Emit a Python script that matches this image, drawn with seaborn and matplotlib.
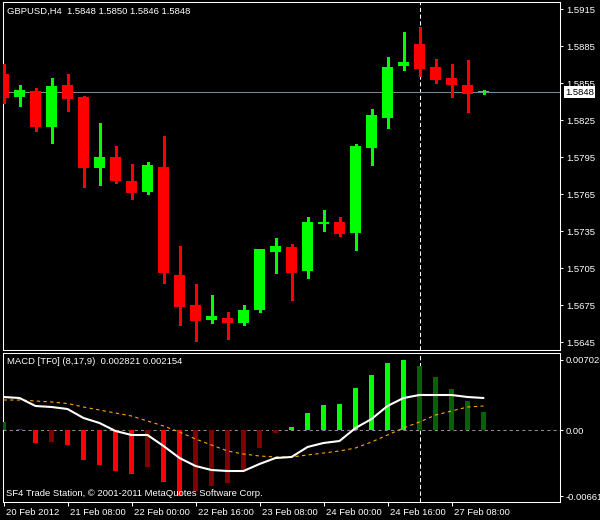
import numpy as np
import pandas as pd
import matplotlib
matplotlib.use("Agg")
import matplotlib.pyplot as plt
import matplotlib.transforms as mtransforms
import seaborn as sns

# GBPUSD H4 candles, oldest first
opens = [1.5863, 1.5844, 1.5849, 1.5820, 1.5854, 1.5844, 1.5786, 1.5795, 1.5776, 1.5767,
         1.5787, 1.5700, 1.5675, 1.5663, 1.5665, 1.5661, 1.5671, 1.5718, 1.5722, 1.5703,
         1.5741, 1.5743, 1.5734, 1.5803, 1.5827, 1.5869, 1.5887, 1.5868, 1.5859, 1.5854,
         1.5848]
highs = [1.5871, 1.5854, 1.5851, 1.5859, 1.5863, 1.5845, 1.5823, 1.5804, 1.5790, 1.5791,
         1.5812, 1.5723, 1.5692, 1.5683, 1.5670, 1.5675, 1.5721, 1.5730, 1.5725, 1.5747,
         1.5752, 1.5747, 1.5806, 1.5834, 1.5876, 1.5897, 1.5901, 1.5875, 1.5871, 1.5874,
         1.5850]
lows = [1.5839, 1.5837, 1.5816, 1.5807, 1.5833, 1.5771, 1.5773, 1.5774, 1.5761, 1.5765,
        1.5693, 1.5659, 1.5646, 1.5661, 1.5648, 1.5659, 1.5670, 1.5701, 1.5679, 1.5697,
        1.5735, 1.5731, 1.5720, 1.5789, 1.5819, 1.5866, 1.5861, 1.5855, 1.5844, 1.5832,
        1.5846]
closes = [1.5843, 1.5850, 1.5820, 1.5853, 1.5842, 1.5786, 1.5795, 1.5776, 1.5766, 1.5789,
          1.5701, 1.5674, 1.5662, 1.5666, 1.5661, 1.5671, 1.5721, 1.5723, 1.5701, 1.5743,
          1.5743, 1.5733, 1.5804, 1.5829, 1.5868, 1.5872, 1.5867, 1.5858, 1.5854, 1.5846,
          1.5848]

# MACD window
macd_hist = [0.0008, 0.0001, -0.0013, -0.0012, -0.0015, -0.0030, -0.0035, -0.0041, -0.0044, -0.0037,
             -0.0052, -0.0066, -0.0061, -0.0056, -0.0053, -0.0041, -0.0018, -0.0003, 0.0003, 0.0017,
             0.0025, 0.0026, 0.0042, 0.0055, 0.0067, 0.0070, 0.0064, 0.0053, 0.0041, 0.0029,
             0.0018]
macd_main = [0.0033, 0.0032, 0.0024, 0.0023, 0.0021, 0.0012, 0.0007, -0.0001, -0.0005, -0.0005,
             -0.0016, -0.0028, -0.0036, -0.0040, -0.0041, -0.0041, -0.0034, -0.0028, -0.0027, -0.0017,
             -0.0013, -0.0011, 0.0002, 0.0011, 0.0024, 0.0032, 0.0035, 0.0035, 0.0035, 0.0033,
             0.0032]
macd_signal = [0.0030, 0.0030, 0.0029, 0.0028, 0.00265, 0.0023, 0.0020, 0.0017, 0.0014, 0.0009,
               0.0004, -0.0002, -0.0009, -0.0015, -0.0021, -0.0024, -0.0026, -0.0027, -0.0027, -0.0025,
               -0.0023, -0.0021, -0.0018, -0.0012, -0.0005, 0.0002, 0.0008, 0.0015, 0.0019, 0.0023,
               0.0024]

date_labels = ["20 Feb 2012", "21 Feb 08:00", "22 Feb 00:00", "22 Feb 16:00",
               "23 Feb 08:00", "24 Feb 00:00", "24 Feb 16:00", "27 Feb 08:00"]
price_ticks = [1.5915, 1.5885, 1.5855, 1.5825, 1.5795, 1.5765, 1.5735, 1.5705, 1.5675, 1.5645]
macd_ticks = [0.007028, 0.0, -0.00661]
macd_tick_labels = ["0.007028", "0.00", "-0.00661"]
last_price = 1.5848
marker_bar = 26

df = pd.DataFrame({"open": opens, "high": highs, "low": lows, "close": closes,
                   "hist": macd_hist, "main": macd_main, "signal": macd_signal})
df["x"] = np.arange(len(df))

# histogram colour: bright when growing away from zero, dark otherwise
prev = df["hist"].shift(1).fillna(np.inf)
df["state"] = np.where(df["hist"] >= 0,
                       np.where(df["hist"] > prev, "up_pos", "dn_pos"),
                       np.where(df["hist"] < prev, "dn_neg", "up_neg"))
pal = {"up_pos": "#00ff00", "dn_pos": "#006400", "dn_neg": "#ff0000", "up_neg": "#800000"}

sns.set_style("dark")
plt.rcParams['font.family'] = ['Liberation Sans', 'DejaVu Sans']
plt.rcParams['font.size'] = 6.8

fig = plt.figure(figsize=(6, 5.2), dpi=100, facecolor="black")
ax1 = fig.add_axes([3 / 600, 1 - 350 / 520, 557 / 600, 348 / 520], facecolor="black")
ax2 = fig.add_axes([3 / 600, 1 - 501.7 / 520, 557 / 600, 149.2 / 520], facecolor="black")

# candles
bull = df["close"] >= df["open"]
ccol = np.where(bull, "#00ff00", "#ff0000")
ax1.vlines(df["x"], df["low"], df["high"], colors=ccol, lw=0.75, antialiased=False, zorder=3)
body_lo = np.minimum(df["open"], df["close"])
body_h = np.maximum((df["close"] - df["open"]).abs(), 0.00009)
ax1.bar(df["x"], body_h, bottom=body_lo, width=0.69, color=ccol, linewidth=0,
        antialiased=False, zorder=4)
ax1.axhline(last_price, color="#778899", lw=0.75, zorder=2)

ax1.set_xlim(-0.03125, 34.78)
ax1.set_ylim(1.56388, 1.59210)
ax1.yaxis.tick_right()
ax1.set_yticks(price_ticks)
ax1.set_yticklabels([f"{p:.4f}" for p in price_ticks])
ax1.set_xticks([])
ax1.tick_params(axis="y", colors="white", length=2.2, width=0.75, pad=2, right=True, left=False)
ax1.text(4 / 557, 1 - 9 / 348, "GBPUSD,H4  1.5848 1.5850 1.5846 1.5848", color="white",
         transform=ax1.transAxes, va="center", ha="left")
ax1.annotate(f"{last_price:.4f}", xy=(1, last_price), xycoords=("axes fraction", "data"),
             xytext=(5, 0), textcoords="offset pixels", va="center", ha="left", color="black",
             annotation_clip=False,
             bbox=dict(boxstyle="square,pad=0.15", fc="white", ec="none"), zorder=10)

# MACD
sns.barplot(data=df, x="x", y="hist", hue="state", palette=pal, dodge=False, native_scale=True,
            width=5 / 16, saturation=1, errorbar=None, legend=False, linewidth=0,
            antialiased=False, ax=ax2, zorder=3)
ax2.axhline(0, color="#909090", lw=0.75, ls=(0, (3, 3)), zorder=2)
sns.lineplot(data=df, x="x", y="signal", color="#ffa500", lw=0.8, linestyle=(0, (3, 3)),
             ax=ax2, zorder=4)
sns.lineplot(data=df, x="x", y="main", color="white", lw=1.5, ax=ax2, zorder=5)

ax2.set_xlim(-0.03125, 34.78)
ax2.set_ylim(-0.00717, 0.00775)
ax2.set_xlabel("")
ax2.set_ylabel("")
ax2.yaxis.tick_right()
ax2.set_yticks(macd_ticks)
ax2.set_yticklabels(macd_tick_labels)
ax2.tick_params(axis="y", colors="white", length=2.2, width=0.75, pad=2, right=True, left=False)
ax2.set_xticks(df["x"][::4])
ax2.set_xticklabels(date_labels)
ax2.tick_params(axis="x", colors="white", length=3, width=0.75, pad=1.5, bottom=True)
shift = mtransforms.ScaledTranslation(2 / 100, 0, fig.dpi_scale_trans)
for lab in ax2.get_xticklabels():
    lab.set_ha("left")
    lab.set_transform(lab.get_transform() + shift)
ax2.text(4 / 557, 1 - 9.5 / 149.2, "MACD [TF0] (8,17,9)  0.002821 0.002154", color="white",
         transform=ax2.transAxes, va="center", ha="left", zorder=6)
ax2.text(3 / 557, 1 - 141.5 / 149.2, "SF4 Trade Station, \u00a9 2001-2011 MetaQuotes Software Corp.",
         color="white", transform=ax2.transAxes, va="center", ha="left", zorder=6)

for ax in (ax1, ax2):
    ax.grid(False)
    # vertical marker sits behind candles and histogram bars
    ax.axvline(marker_bar, color="white", lw=0.75, ls=(0, (4, 2.5)), zorder=1.5)
    for s in ax.spines.values():
        s.set_visible(True)
        s.set_color("white")
        s.set_linewidth(0.75)

fig.savefig("out.png", dpi=100, facecolor="black")
